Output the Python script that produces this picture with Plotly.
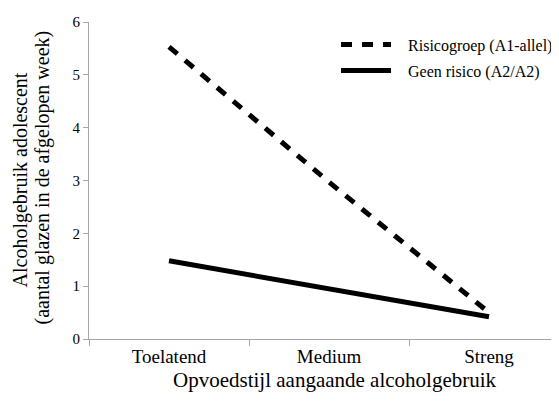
import plotly.graph_objects as go

categories = ["Toelatend", "Medium", "Streng"]
risico_values = [5.53, 2.97, 0.5]
geen_values = [1.48, 0.95, 0.42]
series_names = ["Risicogroep (A1-allel)", "Geen risico (A2/A2)"]
y_ticks = [0, 1, 2, 3, 4, 5, 6]
x_title = "Opvoedstijl aangaande alcoholgebruik"
y_title_lines = ["Alcoholgebruik adolescent", "(aantal glazen in de afgelopen week)"]

FONT = "Liberation Serif, serif"
PAD = "\u00a0\u00a0\u00a0"

fig = go.Figure()
fig.add_trace(go.Scatter(
    x=categories, y=risico_values, mode="lines", name=PAD + series_names[0],
    line=dict(color="black", width=5, dash="11px,10px"), legendgroup="a",
))
fig.add_trace(go.Scatter(
    x=categories, y=geen_values, mode="lines", name=PAD + series_names[1],
    line=dict(color="black", width=5), legendgroup="b",
))

annotations = [
    dict(text=x_title, xref="paper", yref="paper", x=0.5234, y=0,
         xanchor="center", yanchor="middle", yshift=-41, showarrow=False,
         font=dict(family=FONT, size=21, color="black")),
    dict(text=y_title_lines[0], xref="paper", yref="paper", x=0, y=0.5,
         xanchor="center", yanchor="middle", xshift=-69, textangle=-90,
         showarrow=False, font=dict(family=FONT, size=20, color="black")),
    dict(text=y_title_lines[1], xref="paper", yref="paper", x=0, y=0.5,
         xanchor="center", yanchor="middle", xshift=-47, yshift=3, textangle=-90,
         showarrow=False, font=dict(family=FONT, size=20, color="black")),
]

# The page body has an 8px margin, so the figure is sized to fill the rest.
fig.update_layout(
    width=551, height=393,
    margin=dict(l=81, r=0, t=14, b=62, autoexpand=False),
    paper_bgcolor="white", plot_bgcolor="white",
    font=dict(family=FONT, color="black", size=16),
    showlegend=True,
    legend=dict(
        x=0.5256, y=0.982, xanchor="left", yanchor="top",
        font=dict(family=FONT, size=16, color="black"),
        bgcolor="rgba(0,0,0,0)", traceorder="grouped", tracegroupgap=2,
        itemwidth=50,
    ),
    annotations=annotations,
    xaxis=dict(
        type="category", range=[-0.5, 2.4375], automargin=False,
        showline=True, linecolor="#a6a6a6", linewidth=1,
        ticks="outside", tickson="boundaries", ticklen=6, tickcolor="#a6a6a6",
        showgrid=False, zeroline=False,
        tickfont=dict(family=FONT, size=19),
    ),
    yaxis=dict(
        range=[0, 6], tickvals=y_ticks, automargin=False,
        showline=True, linecolor="#a6a6a6", linewidth=1,
        ticks="outside", ticklen=5, tickcolor="#a6a6a6",
        showgrid=False, zeroline=False,
        tickfont=dict(family=FONT, size=15),
    ),
)

fig.write_html("out.html")
